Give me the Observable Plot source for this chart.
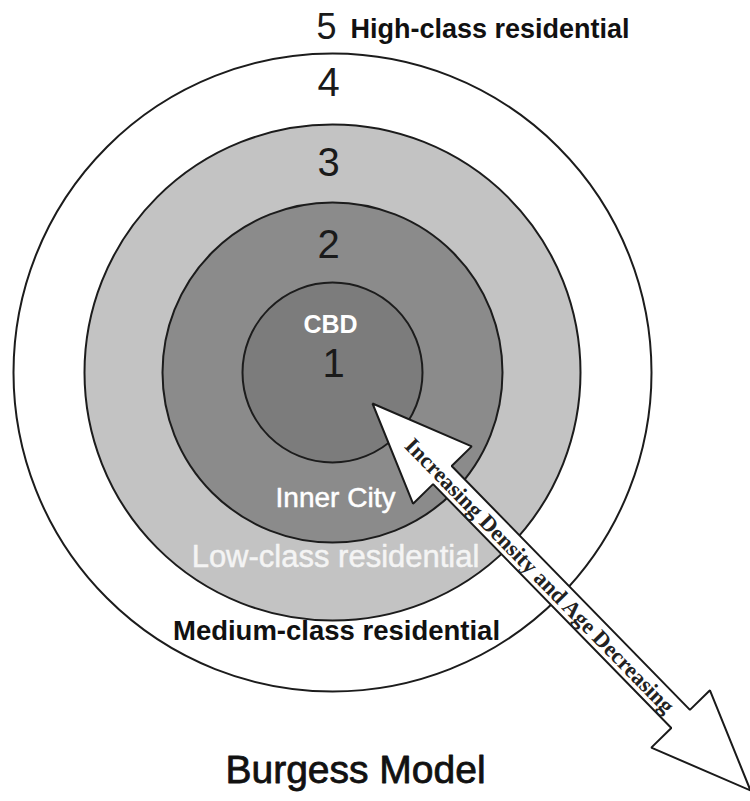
<!DOCTYPE html>
<html>
<head>
<meta charset="utf-8">
<script src="https://cdn.jsdelivr.net/npm/d3@7"></script>
<script src="https://cdn.jsdelivr.net/npm/@observablehq/plot@0.6"></script>
<style>
  html, body { margin: 0; padding: 0; background: #ffffff; }
  #chart svg { display: block; }
</style>
</head>
<body>
<div id="chart"></div>
<script>
// ---- Data ----
const zoneNumbers = ["1", "2", "3", "4", "5"];
const zoneNames = ["CBD", "Inner City", "Low-class residential", "Medium-class residential", "High-class residential"];
const ringRadii = [90, 170, 248, 319];           // outer radius of zones 1–4 (zone 5 is open)
const ringFills = ["#7c7c7c", "#8b8b8b", "#c3c3c3", "#ffffff"];
const nameColors = ["#ffffff", "#ffffff", "#f4f4f4", "#111111", "#111111"];
const arrowLabel = "Increasing Density and Age Decreasing";
const titleText = "Burgess Model";

// ---- Layout (diagram geometry, not data) ----
const W = 750, H = 801;
const cx = 332, cy = 372;
const arrowFrom = {x: 372, y: 403}, arrowTo = {x: 750, y: 790};
const headLen = 100, headHalf = 41, shaftHalf = 13;

const rings = ringRadii.map((r, i) => ({zone: zoneNumbers[i], r, fill: ringFills[i]}));

// zone number positions (offset from centre)
const numberPos = [
  {dx: 1, dy: -8, size: 40},
  {dx: -4, dy: -127, size: 40},
  {dx: -4, dy: -209, size: 40},
  {dx: -4, dy: -289, size: 40},
  {dx: -6, dy: -345, size: 36}
];
const numbers = zoneNumbers.map((n, i) => ({label: n, x: cx + numberPos[i].dx, y: cy + numberPos[i].dy, size: numberPos[i].size}));

// arrow polygon
const ux = arrowTo.x - arrowFrom.x, uy = arrowTo.y - arrowFrom.y;
const L = Math.hypot(ux, uy);
const u = [ux / L, uy / L], n = [u[1], -u[0]];
const P = (base, along, side) => ({x: base.x + along * u[0] + side * n[0], y: base.y + along * u[1] + side * n[1]});
const arrowPts = [
  P(arrowFrom, 0, 0),
  P(arrowFrom, headLen, headHalf),
  P(arrowFrom, headLen, shaftHalf),
  P(arrowTo, -headLen, shaftHalf),
  P(arrowTo, -headLen, headHalf),
  P(arrowTo, 0, 0),
  P(arrowTo, -headLen, -headHalf),
  P(arrowTo, -headLen, -shaftHalf),
  P(arrowFrom, headLen, -shaftHalf),
  P(arrowFrom, headLen, -headHalf)
];
const arrowAngle = Math.atan2(uy, ux) * 180 / Math.PI;
const labelPt = P(arrowFrom, 240, -1);

const sans = "Liberation Sans, Arial, Helvetica, sans-serif";

const chart = Plot.plot({
  width: W,
  height: H,
  margin: 0,
  x: {domain: [0, W], range: [0, W], axis: null},
  y: {domain: [0, H], range: [0, H], axis: null},
  r: {type: "linear", domain: [0, 319], range: [0, 319]},
  color: {type: "identity"},
  style: {background: "#ffffff", overflow: "visible"},
  marks: [
    // concentric zones
    Plot.dot(rings, {x: () => cx, y: () => cy, r: "r", fill: "fill", stroke: "#1c1c1c", strokeWidth: 2}),
    // zone numbers
    Plot.text(numbers.filter(d => d.size === 40), {x: "x", y: "y", text: "label", fontSize: 40, fill: "#1a1a1a", fontFamily: sans}),
    Plot.text(numbers.filter(d => d.size !== 40), {x: "x", y: "y", text: "label", fontSize: 36, fill: "#1a1a1a", fontFamily: sans}),
    // zone names
    Plot.text([zoneNames[0]], {x: cx - 2, y: cy - 48, text: d => d, fontSize: 25, fontWeight: "bold", fill: nameColors[0], fontFamily: sans}),
    Plot.text([zoneNames[1]], {x: cx + 3, y: cy + 126, text: d => d, fontSize: 28, fill: nameColors[1], stroke: nameColors[1], strokeWidth: 0.5, fontFamily: sans}),
    Plot.text([zoneNames[2]], {x: cx + 3, y: cy + 185, text: d => d, fontSize: 31, fill: nameColors[2], stroke: nameColors[2], strokeWidth: 0.5, fontFamily: sans}),
    Plot.text([zoneNames[3]], {x: cx + 4, y: cy + 259, text: d => d, fontSize: 27.5, fontWeight: "bold", fill: nameColors[3], fontFamily: sans}),
    Plot.text([zoneNames[4]], {x: 350, y: 29, text: d => d, fontSize: 27, fontWeight: "bold", textAnchor: "start", fill: nameColors[4], fontFamily: sans}),
    // arrow
    Plot.line(arrowPts, {x: "x", y: "y", curve: "linear-closed", fill: "#ffffff", stroke: "#1a1a1a", strokeWidth: 2, strokeLinejoin: "miter"}),
    Plot.text([arrowLabel], {x: labelPt.x, y: labelPt.y, text: d => d, rotate: arrowAngle, fontSize: 22.5, fontWeight: "bold", fill: "#222222", fontFamily: "Liberation Serif, Times New Roman, serif"}),
    // title
    Plot.text([titleText], {x: 355, y: 770, text: d => d, fontSize: 39, fill: "#111111", stroke: "#111111", strokeWidth: 0.8, fontFamily: sans})
  ]
});
document.getElementById("chart").append(chart);
</script>
</body>
</html>
